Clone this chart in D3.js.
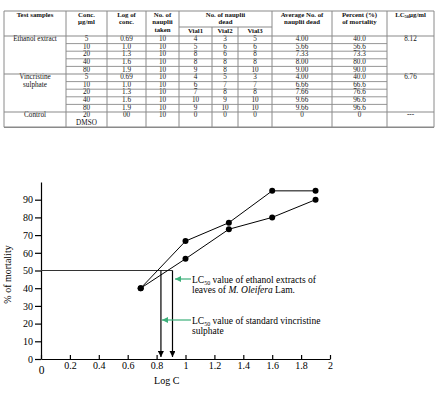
<!DOCTYPE html>
<html><head><meta charset="utf-8">
<script src="https://cdn.jsdelivr.net/npm/d3@7"></script>
<style>
html,body{margin:0;padding:0;background:#fff;}
svg{display:block;font-family:"Liberation Serif","Times New Roman",serif;}
</style></head>
<body>
<svg id="c" width="440" height="405"></svg>
<script>
// ---------- Table data ----------
const headers = [
  ["Test samples"], ["Conc.", "µg/ml"], ["Log of", "conc."], ["No. of", "nauplii", "taken"],
  ["No. of nauplii", "dead"], ["Average No. of", "nauplii dead"], ["Percent (%)", "of mortality"], ["LC50µg/ml"]
];
const vialHeaders = ["Vial1", "Vial2", "Vial3"];
const concLabels = ["5", "10", "20", "40", "80"];
const logConcLabels = ["0.69", "1.0", "1.3", "1.6", "1.9"];
const naupliiTaken = ["10", "10", "10", "10", "10"];
const ethanolVials = [[4,3,5],[5,6,6],[8,6,8],[8,8,8],[9,8,10]];
const vincVials = [[4,5,3],[6,7,7],[7,8,8],[10,9,10],[9,10,10]];
const ethanolAvg = ["4.00","5.66","7.33","8.00","9.00"];
const vincAvg = ["4.00","6.66","7.66","9.66","9.66"];
const ethanolPct = ["40.0","56.6","73.3","80.0","90.0"];
const vincPct = ["40.0","66.6","76.6","96.6","96.6"];
const lc50Values = ["8.12", "6.76", "---"];
const controlRow = ["20", "00", "10", "0", "0", "0", "0", "0"];

// ---------- Chart data ----------
const logC = [0.69, 1.0, 1.3, 1.6, 1.9];
const ethanolMortality = [40, 56.6, 73.3, 80, 90];
const vincMortality = [40, 66.6, 77, 95, 95];
const lc50Log = [0.83, 0.91];
const yTicks = [0,10,20,30,40,50,60,70,80,90];
const xTicks = [0,0.2,0.4,0.6,0.8,1,1.2,1.4,1.6,1.8,2];

const svg = d3.select("#c");

// ================= TABLE =================
const colX = [4, 66, 107, 146, 179, 212, 238, 272, 332, 387, 434];
const tTop = 11, tSub = 27, tHead = 36, rowH = 7.6;
const cx = i => (colX[i] + colX[i+1]) / 2;
const lineC = "#8a8a8a";
const tg = svg.append("g").attr("font-size", 7.2).attr("fill", "#111");

function hline(y, x1, x2, w) {
  tg.append("line").attr("x1", x1).attr("x2", x2).attr("y1", y).attr("y2", y)
    .attr("stroke", lineC).attr("stroke-width", w || 1);
}
function vline(x, y1, y2) {
  tg.append("line").attr("x1", x).attr("x2", x).attr("y1", y1).attr("y2", y2)
    .attr("stroke", lineC).attr("stroke-width", 1);
}
function txt(x, y, s, bold, fs) {
  return tg.append("text").attr("x", x).attr("y", y).attr("text-anchor", "middle")
    .attr("dominant-baseline", "middle").attr("font-weight", bold ? "bold" : null)
    .attr("font-size", fs || null).text(s);
}

const rowY = i => tHead + i * rowH; // top of data row i
const ctrlTop = rowY(10), tBottom = ctrlTop + 2 * rowH;

// Header
const headCols = [[0,1],[1,2],[2,3],[3,4],[4,7],[7,8],[8,9],[9,10]];
headers.forEach((lines, k) => {
  const [a, b] = headCols[k];
  const xm = (colX[a] + colX[b]) / 2;
  lines.forEach((s, j) => {
    const yy = tTop + 4.2 + j * 7.4;
    if (s === "LC50µg/ml") {
      const t = txt(xm, yy, "", true, 6.8);
      t.append("tspan").text("LC");
      t.append("tspan").attr("font-size", 4.5).attr("dy", 1.5).text("50");
      t.append("tspan").attr("dy", -1.5).text("µg/ml");
    } else txt(xm, yy, s, true, 6.8);
  });
});
vialHeaders.forEach((s, j) => txt(cx(4 + j), (tSub + tHead) / 2, s, true, 6.8));

// Data rows
function group(startRow, name, vials, avg, pct, lc) {
  name.forEach((s, j) => txt(cx(0), rowY(startRow + j) + rowH / 2 - 0.3, s));
  txt(cx(9), rowY(startRow) + rowH / 2 - 0.3, lc);
  for (let i = 0; i < 5; i++) {
    const yy = rowY(startRow + i) + rowH / 2 - 0.3;
    txt(cx(1), yy, concLabels[i]);
    txt(cx(2), yy, logConcLabels[i]);
    txt(cx(3), yy, naupliiTaken[i]);
    vials[i].forEach((v, j) => txt(cx(4 + j), yy, v));
    txt(cx(7), yy, avg[i]);
    txt(cx(8), yy, pct[i]);
    if (i > 0) hline(rowY(startRow + i), colX[1], colX[9], 0.9);
  }
}
group(0, ["Ethanol extract"], ethanolVials, ethanolAvg, ethanolPct, lc50Values[0]);
group(5, ["Vincristine", "sulphate"], vincVials, vincAvg, vincPct, lc50Values[1]);
// Control
txt(cx(0), ctrlTop + rowH / 2 - 0.3, "Control");
txt(cx(1), ctrlTop + rowH / 2 - 0.3, controlRow[0]);
txt(cx(1), ctrlTop + rowH * 1.5 - 0.3, "DMSO");
controlRow.slice(1).forEach((s, j) => txt(cx(2 + j), ctrlTop + rowH / 2 - 0.3, s));
txt(cx(9), ctrlTop + rowH / 2 - 0.3, lc50Values[2]);

// Grid lines
hline(tTop, colX[0], colX[10], 1.2);
hline(tSub, colX[4], colX[7], 1);
hline(tHead, colX[0], colX[10], 1.2);
hline(rowY(5), colX[0], colX[10], 1.2);
hline(ctrlTop, colX[0], colX[10], 1.2);
hline(tBottom, colX[0], colX[10], 1.5);
colX.forEach((xx, i) => {
  if (i === 5 || i === 6) vline(xx, tSub, tBottom);
  else vline(xx, tTop, tBottom);
});

// ================= CHART =================
const x = d3.scaleLinear().domain([0, 2]).range([41, 330]);
const y = d3.scaleLinear().domain([0, 100]).range([359, 182]);
const cg = svg.append("g").attr("font-size", 10);

const ya = cg.append("g").attr("transform", `translate(${x(0)},0)`)
  .call(d3.axisLeft(y).tickValues(yTicks).tickSize(6).tickSizeOuter(0).tickPadding(2).tickFormat(d3.format("d")));
const xa = cg.append("g").attr("transform", `translate(0,${y(0)})`)
  .call(d3.axisBottom(x).tickValues(xTicks).tickSize(-4).tickSizeOuter(0).tickPadding(3)
    .tickFormat(d => String(+d.toFixed(1))));
[ya, xa].forEach(a => {
  a.attr("font-family", null).attr("font-size", 10);
  a.selectAll("path,line").attr("stroke", "#000").attr("stroke-width", 1.2);
  a.selectAll("text").attr("fill", "#000");
});
xa.selectAll(".tick text").filter(d => d === 0).attr("font-size", 11.5).attr("dy", "1.0em");

cg.append("text").attr("x", x(0.87)).attr("y", 384).attr("text-anchor", "middle").text("Log C");
cg.append("text").attr("transform", `translate(11,${(y(0) + y(100)) / 2 + 4}) rotate(-90)`)
  .attr("text-anchor", "middle").text("% of mortality");

cg.append("line").attr("x1", x(0)).attr("x2", x(lc50Log[1])).attr("y1", y(50)).attr("y2", y(50))
  .attr("stroke", "#333").attr("stroke-width", 1);
const defs = svg.append("defs");
defs.append("marker").attr("id", "ah").attr("viewBox", "0 0 10 10").attr("refX", 10).attr("refY", 5)
  .attr("markerWidth", 5).attr("markerHeight", 5).attr("orient", "auto")
  .append("path").attr("d", "M0,0L10,5L0,10Z").attr("fill", "#000");
defs.append("marker").attr("id", "gh").attr("viewBox", "0 0 10 10").attr("refX", 10).attr("refY", 5)
  .attr("markerWidth", 5).attr("markerHeight", 5).attr("orient", "auto")
  .append("path").attr("d", "M0,0L10,5L0,10Z").attr("fill", "#3db07a");
lc50Log.forEach(v => {
  cg.append("line").attr("x1", x(v)).attr("x2", x(v)).attr("y1", y(50)).attr("y2", y(0) - 2)
    .attr("stroke", "#000").attr("stroke-width", 1.2).attr("marker-end", "url(#ah)");
});

const line = d3.line().x((d, i) => x(logC[i])).y(d => y(d));
[ethanolMortality, vincMortality].forEach(s => {
  cg.append("path").attr("d", line(s)).attr("fill", "none").attr("stroke", "#000").attr("stroke-width", 1);
  cg.selectAll(null).data(s).enter().append("circle")
    .attr("cx", (d, i) => x(logC[i])).attr("cy", d => y(d)).attr("r", 3).attr("fill", "#000");
});

function ann(yArrow, xTip, lines) {
  cg.append("line").attr("x1", 191).attr("x2", xTip).attr("y1", yArrow).attr("y2", yArrow)
    .attr("stroke", "#3db07a").attr("stroke-width", 1.2).attr("marker-end", "url(#gh)");
  lines.forEach((parts, j) => {
    const t = cg.append("text").attr("x", 192).attr("y", yArrow + 3.5 + j * 10).attr("font-size", 9.5);
    parts.forEach(p => {
      const ts = t.append("tspan").text(p.t);
      if (p.sub) ts.attr("font-size", 6).attr("dy", 2);
      if (p.after) ts.attr("dy", -2);
      if (p.i) ts.attr("font-style", "italic");
    });
  });
}
ann(279, 175, [
  [{t: "LC"}, {t: "50", sub: true}, {t: " value of ethanol extracts of", after: true}],
  [{t: "leaves of "}, {t: "M. Oleifera", i: true}, {t: " Lam."}]
]);
ann(320, 162, [
  [{t: "LC"}, {t: "50", sub: true}, {t: " value of standard vincristine", after: true}],
  [{t: "sulphate"}]
]);
</script>
</body></html>
